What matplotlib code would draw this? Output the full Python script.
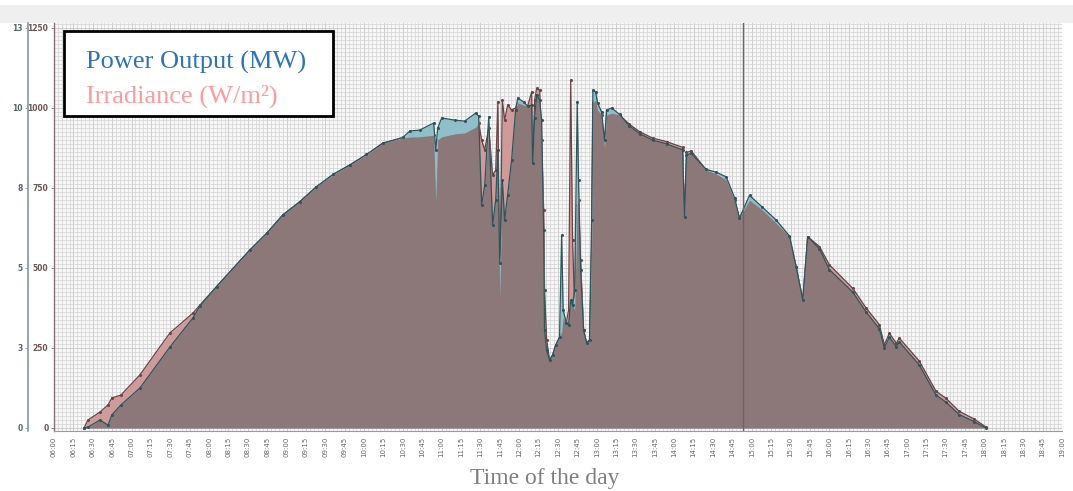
import matplotlib
matplotlib.use("Agg")
import matplotlib.pyplot as plt
from matplotlib.ticker import MultipleLocator, FixedLocator, FixedFormatter
import numpy as np

# minutes since midnight, irradiance (W/m2), plant output (MW)
time_min = [383.2, 386.3, 395.6, 401.8, 404.8, 411.8, 426.5, 449.7, 467.5, 472.9,
            485.8, 511.5, 524.5, 537.1, 550.2, 563.1, 576.0, 588.9, 601.8, 614.4,
            629.9, 635.3, 643.0,
            653.8, 655.4, 656.9, 660.0, 670.1, 677.8, 686.3, 688.6, 690.9, 693.3,
            696.4, 699.4, 701.8, 703.5, 704.9, 706.9, 708.7, 711.0, 714.1, 717.2,
            718.8, 723.4, 726.5, 729.6, 730.4, 731.9, 733.5, 735.8, 737.3, 738.9,
            739.6, 741.2, 743.5, 745.8, 748.2, 751.2, 752.8, 754.0, 756.4, 758.2,
            759.8, 761.3, 762.9, 764.9, 765.9, 767.5, 769.8, 772.1, 774.4, 776.0,
            777.0, 779.1, 780.6, 783.7, 786.0, 787.6, 791.5, 797.6, 805.0, 813.1, 823.2,
            834.0, 846.4, 847.9, 849.4, 853.1, 864.7, 872.0, 880.1, 886.6, 890.4, 898.2, 908.2,
            918.8, 929.1, 934.3, 939.4, 943.2, 952.3, 960.0, 978.0, 988.4, 998.7,
            1002.5, 1006.4, 1011.8, 1014.1, 1029.6, 1042.5, 1050.2, 1060.5, 1072.1, 1081.2]

irradiance = [0, 25, 50, 72, 94, 103, 166, 297, 359, 384,
              442, 556, 608, 666, 707, 754, 791, 822, 853, 890,
              906, 909, 910,
              915, 707, 900, 910, 919, 922, 940, 953, 900, 869,
              937, 790, 806, 1020, 406, 1025, 962, 1009, 994, 1000,
              1016, 1009, 1006, 1050, 837, 1025, 1062, 1056, 900, 681,
              431, 275, 212, 228, 259, 284, 300, 344, 328, 369,
              1087, 587, 369, 697, 712, 525, 306, 266, 275, 556,
              1016, 1025, 994, 978, 875, 978, 984, 978, 950, 926, 906,
              895, 877, 660, 861, 866, 806, 795, 775, 712, 656, 712, 681,
              640, 598, 504, 400, 598, 567, 510, 437, 375, 323,
              260, 296, 265, 281, 209, 115, 93, 52, 28, 3]

power_mw = [0.0, 0.03, 0.25, 0.09, 0.41, 0.72, 1.25, 2.53, 3.44, 3.81,
            4.42, 5.56, 6.08, 6.66, 7.07, 7.54, 7.93, 8.22, 8.55, 8.90,
            9.08, 9.28, 9.31,
            9.53, 8.69, 9.37, 9.69, 9.62, 9.59, 9.84, 9.75, 6.97, 7.59,
            9.72, 6.34, 7.12, 8.69, 5.16, 7.75, 6.50, 7.28, 8.37, 9.94,
            10.31, 10.19, 10.06, 10.09, 8.28, 9.69, 10.41, 10.25, 9.62, 6.19,
            3.06, 2.44, 2.12, 2.28, 2.59, 2.84, 6.03, 3.69, 3.28, 3.22,
            4.00, 3.84, 4.31, 10.20, 7.75, 4.94, 3.06, 2.66, 2.75, 6.50,
            10.56, 10.50, 10.16, 9.88, 9.00, 9.94, 10.00, 9.80, 9.45, 9.20, 9.00,
            8.88, 8.69, 6.60, 8.53, 8.58, 8.08, 8.00, 7.85, 7.20, 6.56, 7.27, 6.90,
            6.50, 6.00, 5.04, 4.00, 5.98, 5.60, 4.95, 4.25, 3.63, 3.10,
            2.50, 2.84, 2.54, 2.69, 1.97, 1.03, 0.81, 0.42, 0.20, 0.0]

irr_ticks = [0, 250, 500, 750, 1000, 1250]
mw_ticks = [0, 2.5, 5, 7.5, 10, 12.5]
mw_labels = ["0", "3", "5", "8", "10", "13"]
hour_ticks = list(range(360, 1141, 15))
hour_labels = ["%02d:%02d" % (m // 60, m % 60) for m in hour_ticks]
cursor_time = 893.5

t = np.array(time_min)
irr = np.array(irradiance)
pw = np.array(power_mw)

fig = plt.figure(figsize=(10.73, 4.91), dpi=100)
fig.patch.set_facecolor("white")
# light gray header band above the plot
fig.add_artist(plt.Rectangle((0, 1 - 23 / 491), 1, 18 / 491, transform=fig.transFigure,
                             facecolor="#efefef", edgecolor="none", zorder=0))

ax = fig.add_axes([54 / 1073, 1 - 431 / 491, 1008 / 1073, 408 / 491])
ax.set_facecolor("#f7f7f7")
ax.set_xlim(360, 1140)
ax.set_ylim(-9.4, 1265.6)

# fine grid behind the fills
ax.set_axisbelow(True)
ax.xaxis.set_minor_locator(MultipleLocator(3))
ax.yaxis.set_minor_locator(MultipleLocator(12.5))
ax.grid(which="minor", axis="both", color="#d3d3d3", lw=0.5)
ax.grid(which="major", axis="both", color="#c6c6c6", lw=0.6)

ax2 = ax.twinx()
ax2.set_ylim(-0.094, 12.656)

# irradiance underneath, then power and the shared part on top
ax.fill_between(t, 0, irr, color="#cf9a9a", lw=0, zorder=1)
ax2.fill_between(t, 0, pw, color="#8fbfc9", lw=0, zorder=1)
ax2.fill_between(t, 0, np.minimum(pw, irr / 100), color="#8c7779", lw=0, zorder=1.5)
ax.plot(t, irr, color="#6a4446", lw=0.9, marker="o", ms=1.2, zorder=3)
ax2.plot(t, pw, color="#2f555c", lw=0.9, marker="o", ms=1.2, zorder=3)
ax2.axvline(cursor_time, color="#666666", lw=1.0, zorder=4)

# x ticks
ax.set_xticks(hour_ticks)
ax.set_xticklabels(hour_labels, rotation=90, fontsize=5, color="#666666")
ax.tick_params(axis="x", which="both", length=0, pad=4)

# inner irradiance axis
ax.set_yticks(irr_ticks)
ax.set_yticklabels([str(v) for v in irr_ticks], fontsize=5.5, color="#6e5254",
                   fontweight="bold")
ax.tick_params(axis="y", length=2, width=0.6, color="#8a7072", pad=2)
ax.tick_params(axis="y", which="minor", length=0)
for side in ["top", "right"]:
    ax.spines[side].set_visible(False)
ax.spines["left"].set_color("#8a7072")
ax.spines["left"].set_linewidth(1.0)
ax.spines["bottom"].set_color("#9a9a9a")

# outer MW axis
ax2.yaxis.tick_left()
ax2.spines["left"].set_position(("outward", 18.7))
ax2.spines["left"].set_color("#7d9aa6")
ax2.spines["left"].set_linewidth(1.2)
for side in ["top", "right", "bottom"]:
    ax2.spines[side].set_visible(False)
ax2.yaxis.set_major_locator(FixedLocator(mw_ticks))
ax2.yaxis.set_major_formatter(FixedFormatter(mw_labels))
ax2.tick_params(axis="y", which="major", length=2, width=0.6, color="#7d9aa6",
                labelsize=5.5, labelcolor="#55666e", pad=2)
for lab in ax2.get_yticklabels():
    lab.set_fontweight("bold")

# legend box
fig.add_artist(plt.Rectangle((64 / 1073, 1 - 116 / 491), 269 / 1073, 85 / 491,
                             transform=fig.transFigure, facecolor="white",
                             edgecolor="black", lw=2, zorder=10))
fig.text(86 / 1073, 1 - 69 / 491, "Power Output (MW)", fontsize=19,
         family="Liberation Serif", color="#2e74b5", zorder=11)
fig.text(86 / 1073, 1 - 103 / 491, "Irradiance (W/m²)", fontsize=19,
         family="Liberation Serif", color="#ff9b9b", zorder=11)

fig.text(545 / 1073, 1 - 484 / 491, "Time of the day", fontsize=17,
         family="Liberation Serif", color="#7f7f7f", ha="center")

fig.savefig("out.png", dpi=100)
